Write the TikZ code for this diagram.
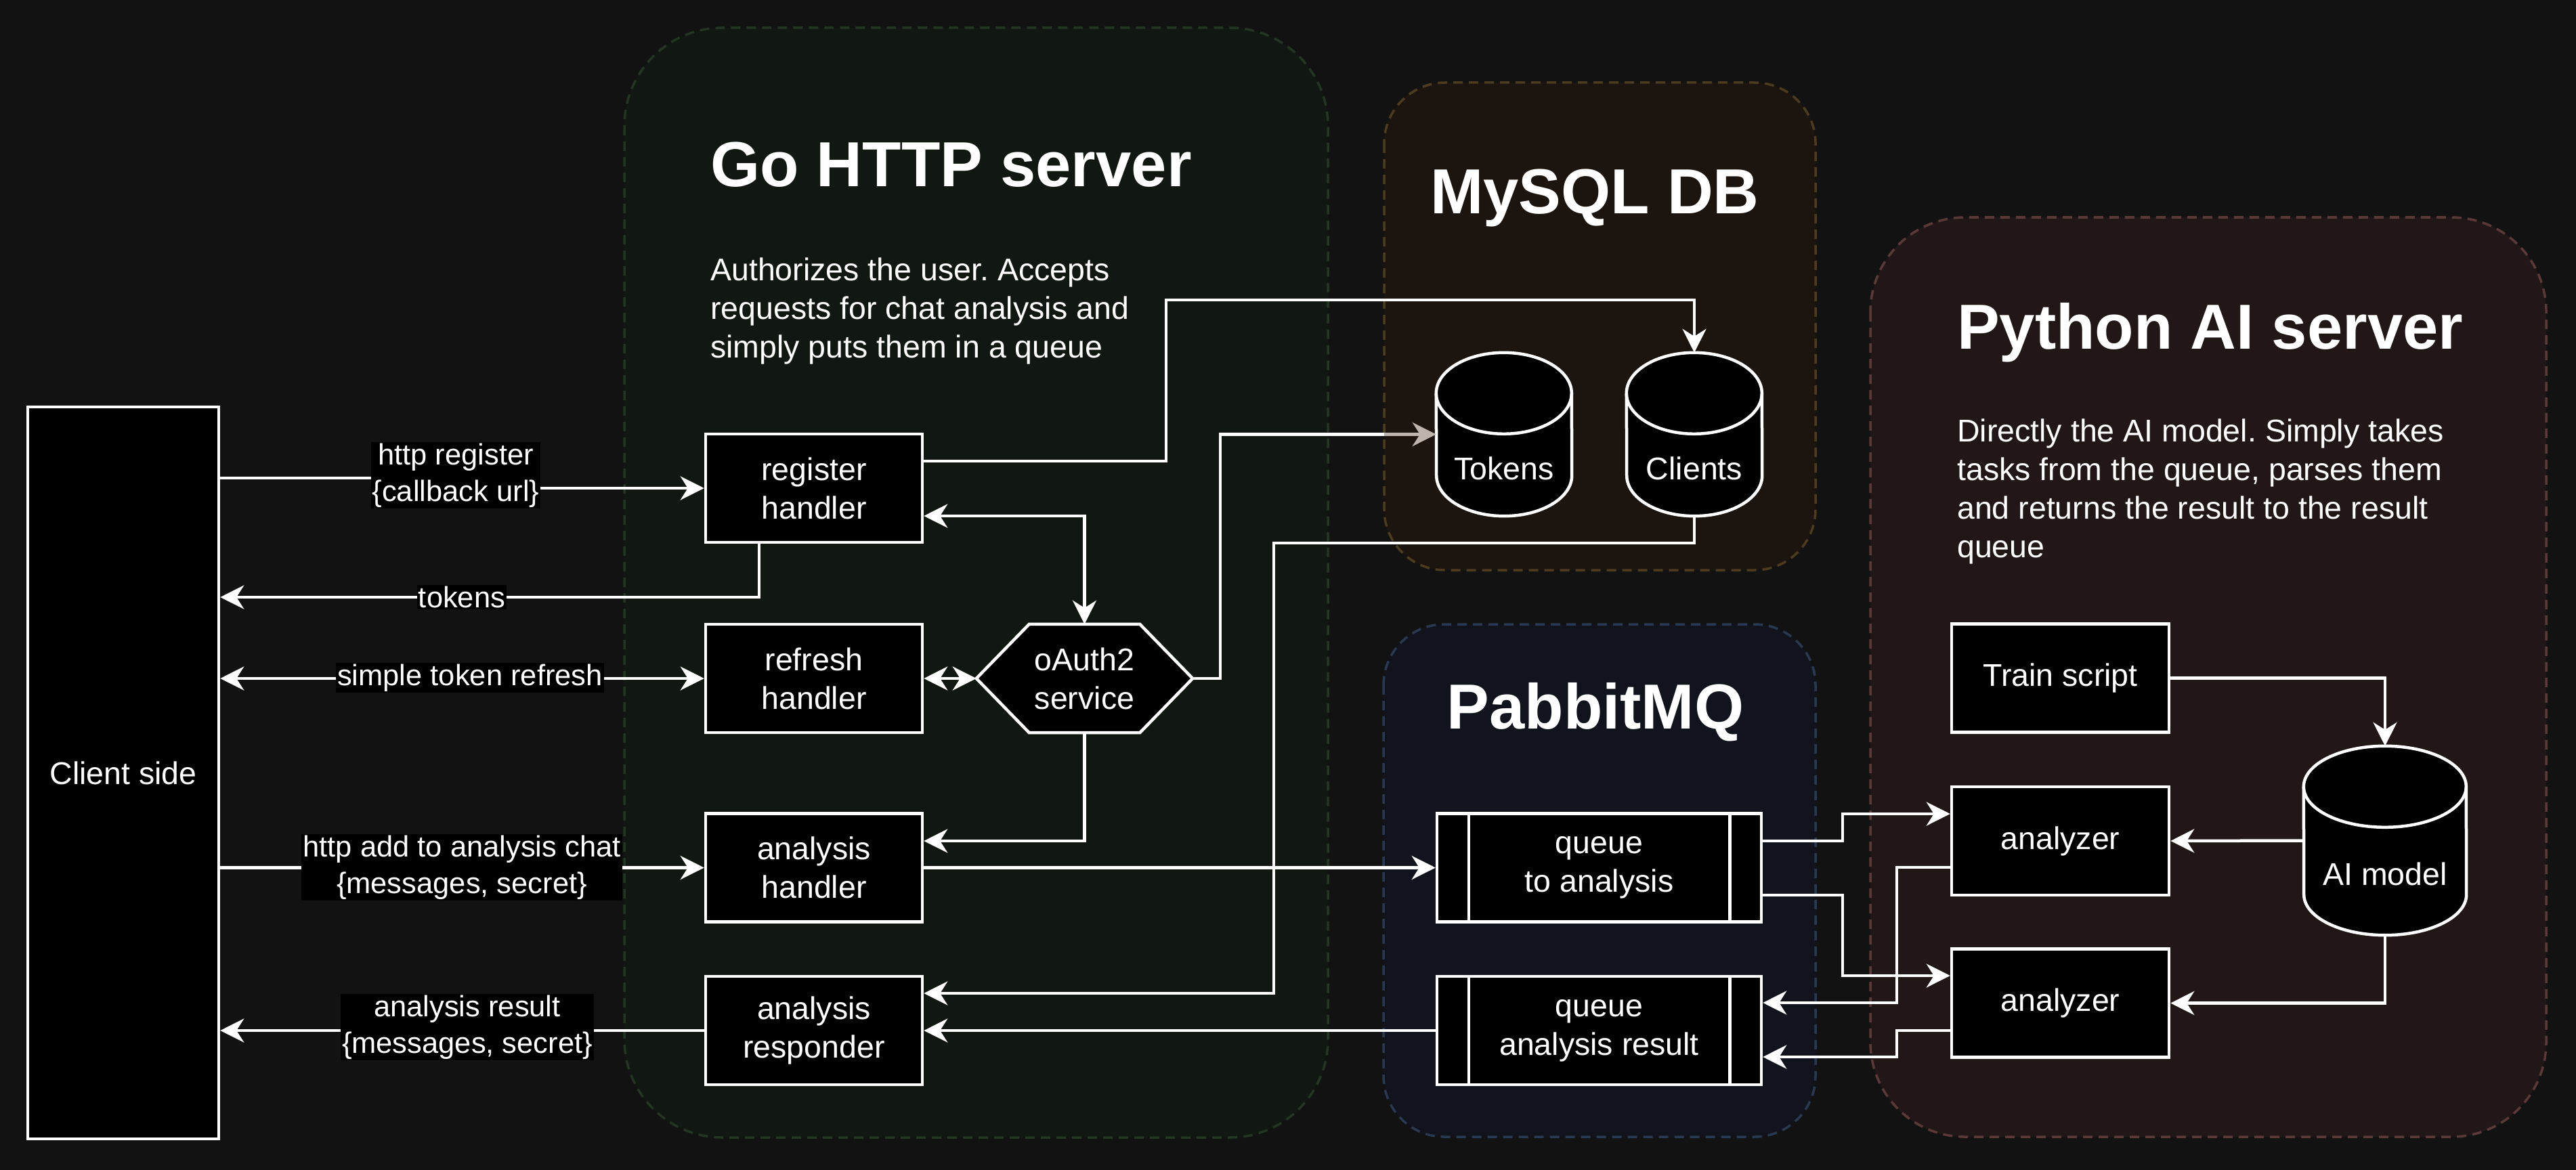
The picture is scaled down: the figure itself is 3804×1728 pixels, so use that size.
\documentclass[tikz,border=0pt]{standalone}
\usepackage{fontspec}
\setmainfont{Liberation Sans}
\usetikzlibrary{arrows.meta,calc}
\frenchspacing
\definecolor{bgc}{HTML}{121212}
\definecolor{gofill}{HTML}{111811}
\definecolor{gobrd}{HTML}{243524}
\definecolor{dbfill}{HTML}{1C140F}
\definecolor{dbbrd}{HTML}{4D3B1F}
\definecolor{mqfill}{HTML}{11141D}
\definecolor{mqbrd}{HTML}{2A3952}
\definecolor{pyfill}{HTML}{211717}
\definecolor{pybrd}{HTML}{5C3939}
\definecolor{dimw}{HTML}{BDB5AD}
\newcommand{\dgBody}{\fontsize{46.5}{57}\selectfont}
\newcommand{\dgLbl}{\fontsize{43.5}{54}\selectfont}
\newcommand{\dgTitle}{\fontsize{94}{113}\selectfont\bfseries}
\newcommand{\dgDesc}{\fontsize{46.5}{57}\selectfont}
\newcommand{\dgcyl}[6]{%
  \node[minimum width=#4pt, minimum height=#5pt, inner sep=0pt] (#1) at (#2,#3) {};
  \draw[shapeline] ($(#1.north west)+(0,-#6)$) arc[start angle=180,end angle=0,x radius=#4/2,y radius=#6]
     -- ($(#1.south east)+(0,#6)$) arc[start angle=0,end angle=-180,x radius=#4/2,y radius=#6] -- cycle;
  \draw[shapeline, fill=none] ($(#1.north west)+(0,-#6)$) arc[start angle=180,end angle=360,x radius=#4/2,y radius=#6];
}
\begin{document}
\begin{tikzpicture}[x=1pt,y=1pt,
  >={Stealth[length=35pt,width=35pt,inset=11pt]},
  shapeline/.style={draw=white, line width=4.5pt, fill=black},
  box/.style={shapeline, text=white, align=center, inner sep=0pt, font=\dgBody},
  txt/.style={text=white, align=center, inner sep=0pt, font=\dgBody},
  edge/.style={draw=white, line width=4.5pt},
  conn/.style={edge, ->},
  conn2/.style={edge, <->},
  lbl/.style={fill=black, text=white, align=center, inner sep=2pt, font=\dgLbl},
  title/.style={text=white, inner sep=0pt, font=\dgTitle},
  desc/.style={text=white, align=left, inner sep=0pt, font=\dgDesc},
  cont/.style={line width=3.5pt, dash pattern=on 14pt off 9pt},
]
\useasboundingbox (0,0) rectangle (3804,-1728);
\fill[bgc] (0,0) rectangle (3804,-1728);

% containers
\draw[cont, draw=gobrd, fill=gofill, rounded corners=145pt] (922,-41) rectangle (1961,-1680);
\draw[cont, draw=dbbrd, fill=dbfill, rounded corners=90pt] (2044,-122) rectangle (2681,-842);
\draw[cont, draw=mqbrd, fill=mqfill, rounded corners=90pt] (2043,-922) rectangle (2681,-1679);
\draw[cont, draw=pybrd, fill=pyfill, rounded corners=140pt] (2762,-321) rectangle (3760,-1679);

% titles and descriptions
\node[title, anchor=base west] (gotitle) at (1049,-276) {Go HTTP server};
\node[desc, anchor=north west] (godesc) at (1049,-381) {Authorizes the user. Accepts\\requests for chat analysis and\\simply puts them in a queue};
\node[title, anchor=base] (dbtitle) at (2355,-316) {MySQL DB};
\node[title, anchor=base] (mqtitle) at (2356,-1076) {PabbitMQ};
\node[title, anchor=base west] (pytitle) at (2890,-515) {Python AI server};
\node[desc, anchor=north west] (pydesc) at (2890,-619) {Directly the AI model. Simply takes\\tasks from the queue, parses them\\and returns the result to the result\\queue};

% nodes
\node[box, minimum width=282pt, minimum height=1081pt] (client) at (182,-1141.5) {Client side};
\node[box, minimum width=320pt, minimum height=160pt] (reg) at (1202,-721) {register\\handler};
\node[box, minimum width=320pt, minimum height=160pt] (refresh) at (1202,-1002) {refresh\\handler};
\node[box, minimum width=320pt, minimum height=160pt] (ahandler) at (1202,-1281.5) {analysis\\handler};
\node[box, minimum width=320pt, minimum height=160pt] (aresp) at (1202,-1522) {analysis\\responder};

\node[minimum width=319pt, minimum height=160pt, inner sep=0pt] (oauth) at (1601.5,-1002) {};
\draw[shapeline] (oauth.west) -- ($(oauth.north west)+(78,0)$) -- ($(oauth.north east)+(-78,0)$)
  -- (oauth.east) -- ($(oauth.south east)+(-78,0)$) -- ($(oauth.south west)+(78,0)$) -- cycle;
\node[txt] (oauthtxt) at (oauth.center) {oAuth2\\service};

\node[box, minimum width=479pt, minimum height=160pt] (q1) at (2361.5,-1281.5) {queue\\to analysis};
\draw[shapeline] ($(q1.north west)+(49,0)$) -- ($(q1.south west)+(49,0)$);
\draw[shapeline] ($(q1.north east)+(-49,0)$) -- ($(q1.south east)+(-49,0)$);
\node[box, minimum width=479pt, minimum height=160pt] (q2) at (2361.5,-1522) {queue\\analysis result};
\draw[shapeline] ($(q2.north west)+(49,0)$) -- ($(q2.south west)+(49,0)$);
\draw[shapeline] ($(q2.north east)+(-49,0)$) -- ($(q2.south east)+(-49,0)$);

\dgcyl{tokens}{2221}{-641.5}{200}{241}{60}
\node[txt] (tokenstxt) at (2221,-692) {Tokens};
\dgcyl{clients}{2502}{-641.5}{200}{241}{60}
\node[txt] (clientstxt) at (2502,-692) {Clients};

\node[box, minimum width=321pt, minimum height=160pt] (train) at (3042.5,-1001.5) {Train script};
\node[box, minimum width=321pt, minimum height=160pt] (an1) at (3042.5,-1242) {analyzer};
\node[box, minimum width=321pt, minimum height=160pt] (an2) at (3042.5,-1481.5) {analyzer};
\dgcyl{aimodel}{3522}{-1241.5}{240}{279}{60}
\node[txt] (aimodeltxt) at (3522,-1291) {AI model};

% connectors
\draw[conn] (client.east |- 0,-706) -- (673,-706) -- (673,-721) -- (reg.west);
\draw[conn] ($(reg.south)+(-81,0)$) |- (client.east |- 0,-882);
\draw[conn2] (client.east |- refresh.west) -- (refresh.west);
\draw[conn] (client.east |- ahandler.west) -- (ahandler.west);
\draw[conn] (aresp.west) -- (client.east |- aresp.west);
\draw[conn] (reg.east |- 0,-681) -| (1722,-443) -| (clients.north);
\draw[conn2] (reg.east |- 0,-762) -| (oauth.north);
\draw[conn2] (refresh.east) -- (oauth.west);
\draw[edge] (oauth.east) -| (1802,-641.5) -- (2044,-641.5);
\draw[conn, draw=dimw] (2044,-641.5) -- (tokens.west);
\draw[conn] (oauth.south) |- (ahandler.east |- 0,-1242);
\draw[conn] (ahandler.east) -- (q1.west);
\draw[conn] (clients.south) |- (1881,-802) |- (aresp.east |- 0,-1467);
\draw[conn] (q2.west) -- (aresp.east);
\draw[conn] (q1.east |- 0,-1242) -| (2721,-1202) -- (an1.west |- 0,-1202);
\draw[conn] (q1.east |- 0,-1322) -| (2721,-1441) -- (an2.west |- 0,-1441);
\draw[conn] (an1.west |- 0,-1281) -| (2801,-1481) -- (q2.east |- 0,-1481);
\draw[conn] (an2.west |- 0,-1522) -| (2801,-1561) -- (q2.east |- 0,-1561);
\draw[conn] (train.east) -| (aimodel.north);
\draw[conn] (aimodel.west) -- (an1.east);
\draw[conn] (aimodel.south) |- (an2.east);

% connector labels
\node[lbl] (l1) at (673,-702) {http register\\\{callback url\}};
\node[lbl] (l2) at (682,-882) {tokens};
\node[lbl] (l3) at (694,-1001) {simple token refresh};
\node[lbl] (l4) at (682,-1281) {http add to analysis chat\\\{messages, secret\}};
\node[lbl] (l5) at (690,-1517) {analysis result\\\{messages, secret\}};
\end{tikzpicture}
\end{document}
